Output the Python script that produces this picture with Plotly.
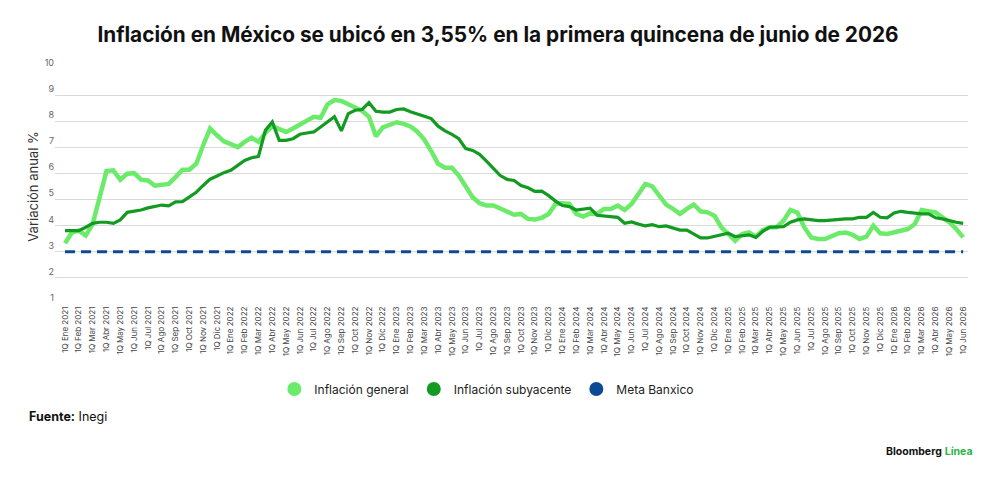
import plotly.graph_objects as go

MONTHS = ["Ene", "Feb", "Mar", "Abr", "May", "Jun", "Jul", "Ago", "Sep", "Oct", "Nov", "Dic"]
YEARS = [2021, 2022, 2023, 2024, 2025, 2026]

# quincenas: 1Q Ene 2021 ... 1Q Jun 2026
periods = []
for yr in YEARS:
    for m in MONTHS:
        for q in ("1Q", "2Q"):
            periods.append(f"{q} {m} {yr}")
periods = periods[: periods.index("1Q Jun 2026") + 1]
tick_labels = [p for p in periods if p.startswith("1Q")]

inflacion_general = [
    3.33, 3.74, 3.81, 3.62, 4.06, 5.15, 6.09, 6.12, 5.76, 5.99,
    6.01, 5.76, 5.73, 5.53, 5.55, 5.60, 5.86, 6.14, 6.14, 6.37,
    7.08, 7.72, 7.46, 7.23, 7.12, 7.01, 7.21, 7.37, 7.21, 7.55,
    7.81, 7.68, 7.59, 7.72, 7.88, 8.06, 8.17, 8.13, 8.65, 8.81,
    8.78, 8.65, 8.53, 8.40, 8.17, 7.42, 7.76, 7.88, 7.96, 7.90,
    7.80, 7.60, 7.30, 6.86, 6.37, 6.22, 6.22, 5.92, 5.50, 5.09,
    4.86, 4.77, 4.77, 4.64, 4.51, 4.42, 4.45, 4.26, 4.24, 4.30,
    4.45, 4.83, 4.86, 4.83, 4.45, 4.35, 4.47, 4.45, 4.64, 4.64,
    4.77, 4.60, 4.83, 5.24, 5.60, 5.50, 5.15, 4.81, 4.64, 4.45,
    4.64, 4.81, 4.55, 4.51, 4.38, 3.94, 3.68, 3.42, 3.68, 3.74,
    3.58, 3.83, 3.94, 3.94, 4.19, 4.60, 4.50, 3.94, 3.55, 3.49,
    3.49, 3.62, 3.71, 3.74, 3.65, 3.49, 3.58, 4.00, 3.71, 3.68,
    3.74, 3.81, 3.87, 4.06, 4.60, 4.55, 4.51, 4.32, 4.13, 3.87,
    3.55,
]

inflacion_subyacente = [
    3.81, 3.81, 3.81, 3.94, 4.09, 4.13, 4.13, 4.09, 4.22, 4.51,
    4.55, 4.60, 4.68, 4.73, 4.79, 4.76, 4.91, 4.92, 5.09, 5.28,
    5.54, 5.78, 5.90, 6.03, 6.12, 6.31, 6.50, 6.60, 6.65, 7.65,
    7.97, 7.27, 7.27, 7.33, 7.50, 7.55, 7.59, 7.78, 7.97, 8.17,
    7.63, 8.29, 8.42, 8.45, 8.71, 8.38, 8.35, 8.35, 8.45, 8.47,
    8.36, 8.26, 8.19, 8.10, 7.81, 7.63, 7.50, 7.33, 6.95, 6.88,
    6.73, 6.47, 6.18, 5.92, 5.77, 5.73, 5.54, 5.45, 5.31, 5.32,
    5.15, 4.94, 4.77, 4.73, 4.60, 4.64, 4.67, 4.40, 4.38, 4.35,
    4.32, 4.09, 4.14, 4.06, 3.99, 4.04, 3.96, 3.99, 3.91, 3.83,
    3.83, 3.68, 3.53, 3.53, 3.58, 3.65, 3.71, 3.58, 3.62, 3.65,
    3.55, 3.78, 3.94, 3.96, 3.96, 4.13, 4.22, 4.26, 4.22, 4.19,
    4.19, 4.22, 4.24, 4.26, 4.26, 4.32, 4.32, 4.51, 4.32, 4.30,
    4.49, 4.55, 4.51, 4.47, 4.45, 4.45, 4.30, 4.26, 4.19, 4.13,
    4.09,
]

meta_banxico = [3.0] * len(periods)

LIGHT = "#6CEB6A"
DARK = "#139A21"
NAVY = "#0C4A93"

fig = go.Figure()

fig.add_trace(go.Scatter(
    x=periods, y=meta_banxico, mode="lines",
    line=dict(color=NAVY, width=3, dash="10px,6px"),
    showlegend=False, hoverinfo="skip",
))
fig.add_trace(go.Scatter(
    x=periods, y=inflacion_general, mode="lines",
    line=dict(color=LIGHT, width=4.5),
    showlegend=False,
))
fig.add_trace(go.Scatter(
    x=periods, y=inflacion_subyacente, mode="lines",
    line=dict(color=DARK, width=3.2),
    showlegend=False,
))

# legend entries drawn as circles
for name, color in [("Inflación general", LIGHT), ("Inflación subyacente", DARK), ("Meta Banxico", NAVY)]:
    fig.add_trace(go.Scatter(
        x=[None], y=[None], mode="markers", name=name,
        marker=dict(color=color, size=14, symbol="circle"),
    ))

# the page body adds ~8px offset, so margins are shifted accordingly
fig.update_layout(
    width=1000, height=480,
    margin=dict(l=47, r=40, t=61, b=184),
    paper_bgcolor="white",
    plot_bgcolor="white",
    font=dict(family="Inter, Roboto, sans-serif", color="#222"),
    title=dict(
        text="<b>Inflación en México se ubicó en 3,55% en la primera quincena de junio de 2026</b>",
        x=0.49, xanchor="center", y=0.944, yanchor="middle",
        font=dict(size=20.8, color="#111", family="Inter, sans-serif", weight=800),
    ),
    showlegend=True,
    legend=dict(
        orientation="h", x=0.473, xanchor="center", y=-0.362, yanchor="middle",
        font=dict(size=12, color="#222"), itemwidth=30, traceorder="normal",
    ),
    xaxis=dict(
        type="category",
        categoryorder="array", categoryarray=periods,
        range=[-1.45, len(periods) - 0.3],
        tickmode="array", tickvals=tick_labels, ticktext=tick_labels,
        tickangle=-90, tickfont=dict(size=8, color="#444"),
        showgrid=False, showline=False, ticks="",
        zeroline=False,
    ),
    yaxis=dict(
        range=[1, 10], dtick=1,
        showgrid=True, gridcolor="#DADADA", gridwidth=1,
        zeroline=False, showline=False, ticks="",
        tickfont=dict(size=9, color="#666"),
        ticklabelposition="outside top",
        title=dict(text="Variación anual %", font=dict(size=13, color="#333"), standoff=3),
    ),
    annotations=[
        dict(
            text="<b>Fuente:</b> Inegi", xref="paper", yref="paper",
            x=-0.031, y=-0.477, xanchor="left", yanchor="middle",
            showarrow=False, font=dict(size=12.5, color="#111"),
        ),
        dict(
            text="<b>Bloomberg</b> <b><span style='color:#2DB24A'>Línea</span></b>",
            xref="paper", yref="paper",
            x=1.008, y=-0.626, xanchor="right", yanchor="middle",
            showarrow=False, font=dict(size=10.5, color="#111"),
        ),
    ],
)

fig.write_html("out.html")
